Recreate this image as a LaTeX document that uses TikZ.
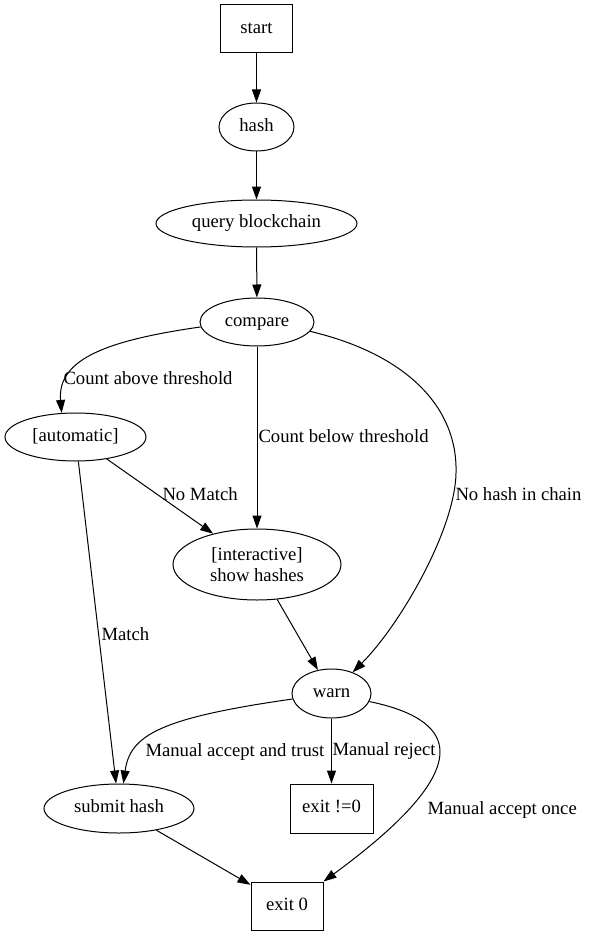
\documentclass[tikz,border=0pt]{standalone}
\usepackage{fontspec}
\setmainfont{Liberation Serif}
\usetikzlibrary{shapes.geometric, arrows.meta}
\tikzset{
  flowbox/.style={draw, rectangle, inner sep=0, minimum width=72, minimum height=48, text height=12.5pt, text depth=4pt},
  flowoval/.style={draw, ellipse, inner sep=0, text height=12.5pt, text depth=4pt},
  flowedge/.style={-{Triangle[length=13pt, width=9pt]}},
  edgelabel/.style={anchor=west, inner sep=0, text height=12.5pt, text depth=4pt}
}

\begin{document}
\begin{tikzpicture}[x=1pt, y=-1pt, line width=1pt, font=\fontsize{18.67}{21}\selectfont]
\useasboundingbox (0,0) rectangle (590,936);
\node[flowbox] (start) at (256.5,29) {start};
\node[flowoval, minimum width=75, minimum height=48] (hash) at (256.5,127) {hash};
\node[flowoval, minimum width=201, minimum height=47] (query) at (256.5,223.5) {query blockchain};
\node[flowoval, minimum width=114, minimum height=48] (compare) at (257,322) {compare};
\node[flowoval, minimum width=141, minimum height=48] (automatic) at (75.5,437) {[automatic]};
\node[flowoval, minimum width=168, minimum height=71, align=center, text height={}, text depth={}] (interactive) at (257,564.5) {[interactive]\\show hashes};
\node[flowoval, minimum width=79, minimum height=49] (warn) at (331.5,693.5) {warn};
\node[flowoval, minimum width=150, minimum height=49] (submit) at (119,808.5) {submit hash};
\node[flowbox, minimum width=83, minimum height=49] (exitfail) at (331.5,808.5) {exit !=0};
\node[flowbox] (exitok) at (287,906) {exit 0};
\draw[flowedge] (start) -- (hash);
\draw[flowedge] (hash) -- (query);
\draw[flowedge] (query) -- (compare);
\draw[flowedge] (compare.185) .. controls (110,340) and (57,358) .. (automatic.120);
\draw[flowedge] (compare) -- (interactive);
\draw[flowedge] (compare.-10) .. controls (410,355) and (458,410) .. (456,473) .. controls (455,530) and (400,625) .. (warn.45);
\draw[flowedge] (automatic) -- (interactive);
\draw[flowedge] (automatic) -- (submit);
\draw[flowedge] (interactive) -- (warn);
\draw[flowedge] (warn.188) .. controls (160,718) and (130,735) .. (submit.80);
\draw[flowedge] (warn) -- (exitfail);
\draw[flowedge] (warn.-12) .. controls (420,712) and (440,730) .. (440,752) .. controls (440,790) and (380,840) .. (exitok.north east);
\draw[flowedge] (submit) -- (exitok);
\node[edgelabel] (abovelbl) at (63,380) {Count above threshold};
\node[edgelabel] (belowlbl) at (258,438) {Count below threshold};
\node[edgelabel] (nohashlbl) at (455,496) {No hash in chain};
\node[edgelabel] (nomatchlbl) at (162,496) {No Match};
\node[edgelabel] (matchlbl) at (101,636) {Match};
\node[edgelabel] (trustlbl) at (145,752) {Manual accept and trust};
\node[edgelabel] (rejectlbl) at (332,751) {Manual reject};
\node[edgelabel] (oncelbl) at (427,810) {Manual accept once};
\end{tikzpicture}
\end{document}
